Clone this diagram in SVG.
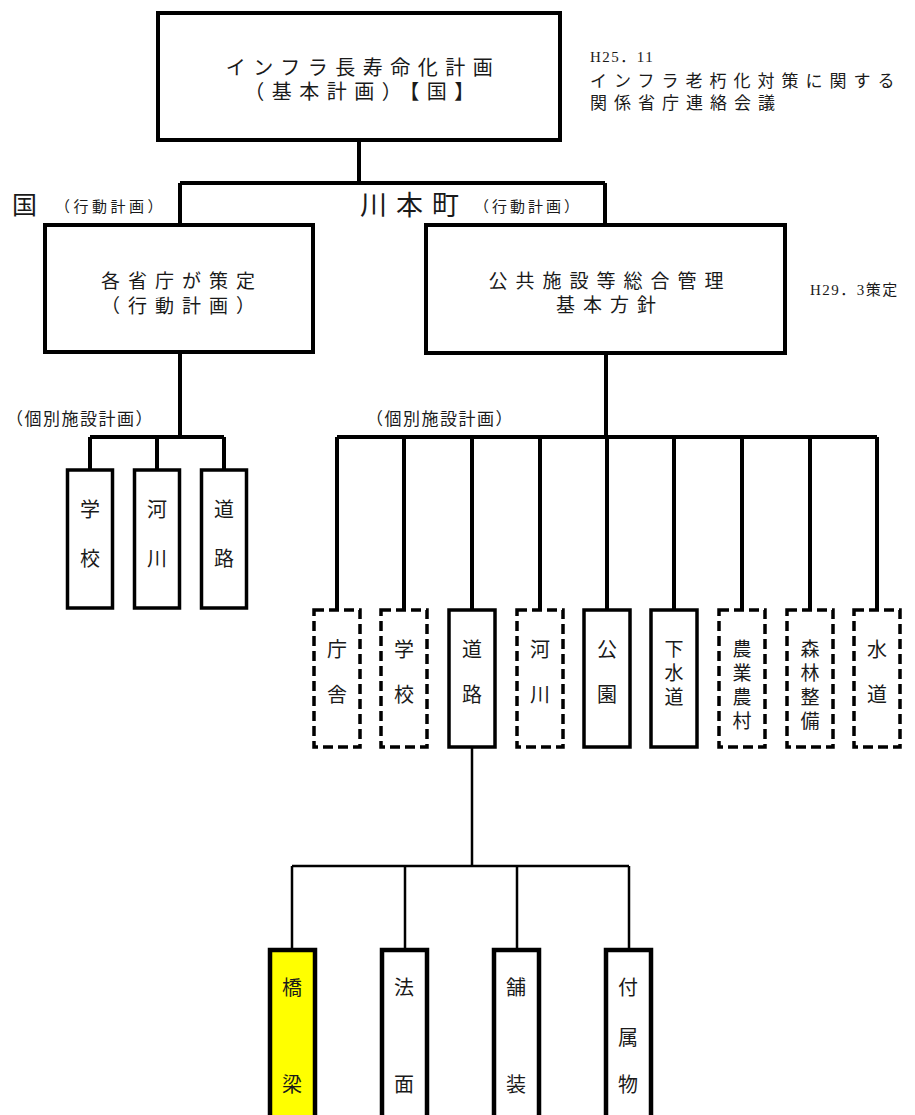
<svg xmlns="http://www.w3.org/2000/svg" width="915" height="1115" viewBox="0 0 915 1115">
<style>
text{font-family:"Noto Sans CJK JP","Liberation Sans",sans-serif;fill:#1a1a1a;dominant-baseline:central}
.m{text-anchor:middle}
.lat{font-family:"Liberation Serif","Noto Sans CJK JP",serif}
.box{fill:#fff;stroke:#000;stroke-width:4}
.sb{fill:#fff;stroke:#000;stroke-width:3.5}
.db{fill:#fff;stroke:#000;stroke-width:3.5;stroke-dasharray:10 5}
.bb{fill:#fff;stroke:#000;stroke-width:4.5}
.hl{fill:#ffff00}
.c{fill:none;stroke:#000;stroke-width:4}
.c2{fill:none;stroke:#000;stroke-width:2.5}
.big{font-size:20px;letter-spacing:7.5px}
.mid{font-size:19px;letter-spacing:8px}
.v{font-size:20px}
.vs{font-size:19px}
</style>
<g id="connectors">
<path class="c" d="M359 140V183M180 183H605M180 183V225M605 183V225"/>
<path class="c" d="M180 352V437M90 437H224M90 437V470M157 437V470M224 437V470"/>
<path class="c" d="M606 353V437M337 437H877M337 437V610M404 437V610M472 437V610M540 437V610M607 437V610M674 437V610M742 437V610M810 437V610M877 437V610"/>
<path class="c2" d="M472 747V866M292 866H629M292 866V950M405 866V950M517 866V950M629 866V950"/>
</g>
<g id="n-top">
<rect class="box" x="158" y="13" width="402" height="127"/>
<text class="m big" x="363" y="66">インフラ長寿命化計画</text>
<text class="m big" x="363" y="90">（基本計画）【国】</text>
</g>
<g id="n-note1">
<text class="lat" x="590" y="57" font-size="15" letter-spacing="1.5">H25．11</text>
<text x="590" y="79" font-size="17" letter-spacing="7">インフラ老朽化対策に関する</text>
<text x="590" y="101" font-size="17" letter-spacing="7">関係省庁連絡会議</text>
</g>
<g id="n-labels">
<text x="12" y="203" font-size="25">国</text>
<text x="55" y="205" font-size="15" letter-spacing="3.5">（行動計画）</text>
<text x="360" y="203" font-size="27" letter-spacing="9">川本町</text>
<text x="474" y="205" font-size="15" letter-spacing="3">（行動計画）</text>
<text x="6" y="417" font-size="17" letter-spacing="1.5">（個別施設計画）</text>
<text x="366" y="417" font-size="17" letter-spacing="1.5">（個別施設計画）</text>
</g>
<g id="n-kuni">
<rect class="box" x="45" y="225" width="268" height="127"/>
<text class="m mid" x="182" y="279">各省庁が策定</text>
<text class="m mid" x="182" y="304">（行動計画）</text>
</g>
<g id="n-town">
<rect class="box" x="426" y="225" width="359" height="128"/>
<text class="m mid" x="610" y="279">公共施設等総合管理</text>
<text class="m mid" x="610" y="303">基本方針</text>
</g>
<g id="n-note2">
<text class="lat" x="810" y="290" font-size="15" letter-spacing="1.5">H29．3策定</text>
</g>
<g id="n-k-school">
<rect class="sb" x="67.5" y="470" width="45" height="138"/>
<text class="m v" x="90" y="508">学</text><text class="m v" x="90" y="557">校</text>
</g>
<g id="n-k-river">
<rect class="sb" x="134.5" y="470" width="45" height="138"/>
<text class="m v" x="157" y="508">河</text><text class="m v" x="157" y="557">川</text>
</g>
<g id="n-k-road">
<rect class="sb" x="201.5" y="470" width="45" height="138"/>
<text class="m v" x="224" y="508">道</text><text class="m v" x="224" y="557">路</text>
</g>
<g id="n-t-office">
<rect class="db" x="314" y="610" width="46" height="137"/>
<text class="m v" x="337" y="648">庁</text><text class="m v" x="337" y="693">舎</text>
</g>
<g id="n-t-school">
<rect class="db" x="381" y="610" width="46" height="137"/>
<text class="m v" x="404" y="648">学</text><text class="m v" x="404" y="693">校</text>
</g>
<g id="n-t-road">
<rect class="sb" x="449" y="610" width="46" height="137"/>
<text class="m v" x="472" y="648">道</text><text class="m v" x="472" y="693">路</text>
</g>
<g id="n-t-river">
<rect class="db" x="517" y="610" width="46" height="137"/>
<text class="m v" x="540" y="648">河</text><text class="m v" x="540" y="693">川</text>
</g>
<g id="n-t-park">
<rect class="sb" x="584" y="610" width="46" height="137"/>
<text class="m v" x="607" y="648">公</text><text class="m v" x="607" y="693">園</text>
</g>
<g id="n-t-sewer">
<rect class="sb" x="651" y="610" width="46" height="137"/>
<text class="m vs" x="674" y="647">下</text><text class="m vs" x="674" y="671">水</text><text class="m vs" x="674" y="695">道</text>
</g>
<g id="n-t-agri">
<rect class="db" x="719" y="610" width="46" height="137"/>
<text class="m vs" x="742" y="647">農</text><text class="m vs" x="742" y="671">業</text><text class="m vs" x="742" y="695">農</text><text class="m vs" x="742" y="719">村</text>
</g>
<g id="n-t-forest">
<rect class="db" x="787" y="610" width="46" height="137"/>
<text class="m vs" x="810" y="647">森</text><text class="m vs" x="810" y="671">林</text><text class="m vs" x="810" y="695">整</text><text class="m vs" x="810" y="719">備</text>
</g>
<g id="n-t-water">
<rect class="db" x="854" y="610" width="46" height="137"/>
<text class="m v" x="877" y="648">水</text><text class="m v" x="877" y="693">道</text>
</g>
<g id="n-bridge">
<rect class="bb hl" x="270" y="950" width="45" height="180"/>
<text class="m v" x="292" y="986">橋</text><text class="m v" x="292" y="1083">梁</text>
</g>
<g id="n-slope">
<rect class="bb" x="382" y="950" width="45" height="180"/>
<text class="m v" x="404" y="986">法</text><text class="m v" x="404" y="1083">面</text>
</g>
<g id="n-pave">
<rect class="bb" x="494" y="950" width="45" height="180"/>
<text class="m v" x="516" y="986">舗</text><text class="m v" x="516" y="1083">装</text>
</g>
<g id="n-attach">
<rect class="bb" x="606" y="950" width="45" height="180"/>
<text class="m v" x="628" y="986">付</text><text class="m v" x="628" y="1036">属</text><text class="m v" x="628" y="1083">物</text>
</g>
</svg>
